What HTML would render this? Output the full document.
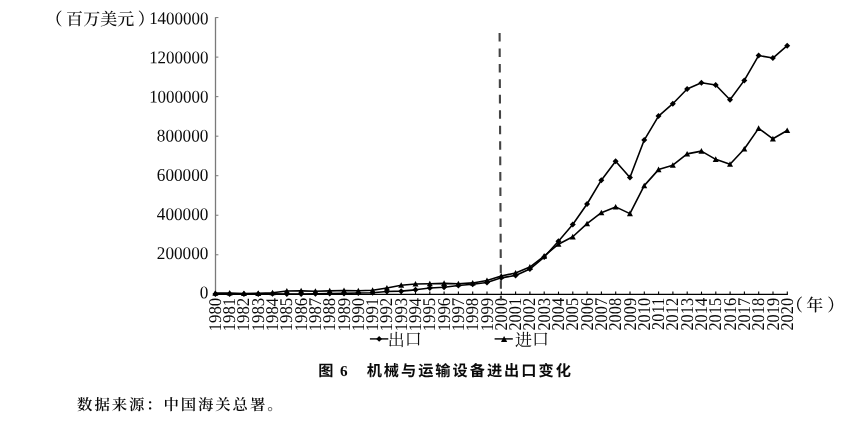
<!DOCTYPE html>
<html lang="zh"><head><meta charset="utf-8"><title>图6</title>
<style>
html,body{margin:0;padding:0;background:#fff;}
body{width:855px;height:429px;overflow:hidden;position:relative;}
svg{position:absolute;left:0;top:0;}
text{fill:#0a0a0a;text-rendering:geometricPrecision;}
.num{font-family:"Liberation Serif",serif;font-size:17.2px;}
.cjk{font-family:"Liberation Serif","Noto Serif CJK SC",serif;font-size:17px;font-weight:500;}
.cap{font-family:"Liberation Serif","Noto Sans CJK SC",sans-serif;font-size:15.2px;font-weight:700;}
.src{font-family:"Liberation Serif","Noto Serif CJK SC",serif;font-size:15.4px;font-weight:600;}
</style></head><body>
<svg width="855" height="429" viewBox="0 0 855 429">
<line x1="215.5" y1="17.3" x2="215.5" y2="294.3" stroke="#7a7a7a" stroke-width="1.3"/>
<text class="num" transform="translate(208.4,298.20) rotate(0.03) scale(1.0,1.035)" text-anchor="end">0</text>
<line x1="215.5" y1="254.77" x2="218.4" y2="254.77" stroke="#7a7a7a" stroke-width="1"/>
<text class="num" transform="translate(208.4,259.05) rotate(0.03) scale(1.0,1.035)" text-anchor="end">200000</text>
<line x1="215.5" y1="215.24" x2="218.4" y2="215.24" stroke="#7a7a7a" stroke-width="1"/>
<text class="num" transform="translate(208.4,219.90) rotate(0.03) scale(1.0,1.035)" text-anchor="end">400000</text>
<line x1="215.5" y1="175.71" x2="218.4" y2="175.71" stroke="#7a7a7a" stroke-width="1"/>
<text class="num" transform="translate(208.4,180.75) rotate(0.03) scale(1.0,1.035)" text-anchor="end">600000</text>
<line x1="215.5" y1="136.18" x2="218.4" y2="136.18" stroke="#7a7a7a" stroke-width="1"/>
<text class="num" transform="translate(208.4,141.60) rotate(0.03) scale(1.0,1.035)" text-anchor="end">800000</text>
<line x1="215.5" y1="96.65" x2="218.4" y2="96.65" stroke="#7a7a7a" stroke-width="1"/>
<text class="num" transform="translate(208.4,102.45) rotate(0.03) scale(0.985,1.035)" text-anchor="end">1000000</text>
<line x1="215.5" y1="57.12" x2="218.4" y2="57.12" stroke="#7a7a7a" stroke-width="1"/>
<text class="num" transform="translate(208.4,63.30) rotate(0.03) scale(0.985,1.035)" text-anchor="end">1200000</text>
<line x1="215.5" y1="17.59" x2="218.4" y2="17.59" stroke="#7a7a7a" stroke-width="1"/>
<text class="num" transform="translate(208.4,24.15) rotate(0.03) scale(0.985,1.035)" text-anchor="end">1400000</text>
<text class="cjk" x="45.6 66.1 83.15 100.25 117.35 137.8" y="25">（百万美元）</text>
<line x1="214.8" y1="294.3" x2="787.9" y2="294.3" stroke="#000" stroke-width="1.3"/>
<line x1="215.30" y1="294.3" x2="215.30" y2="291.6" stroke="#000" stroke-width="1.1"/>
<text class="num" text-anchor="end" transform="translate(220.80,297.76) rotate(-90) scale(0.975,1.04)">1980</text>
<line x1="229.60" y1="294.3" x2="229.60" y2="291.6" stroke="#000" stroke-width="1.1"/>
<text class="num" text-anchor="end" transform="translate(235.10,297.76) rotate(-90) scale(0.975,1.04)">1981</text>
<line x1="243.90" y1="294.3" x2="243.90" y2="291.6" stroke="#000" stroke-width="1.1"/>
<text class="num" text-anchor="end" transform="translate(249.40,297.76) rotate(-90) scale(0.975,1.04)">1982</text>
<line x1="258.20" y1="294.3" x2="258.20" y2="291.6" stroke="#000" stroke-width="1.1"/>
<text class="num" text-anchor="end" transform="translate(263.70,297.76) rotate(-90) scale(0.975,1.04)">1983</text>
<line x1="272.50" y1="294.3" x2="272.50" y2="291.6" stroke="#000" stroke-width="1.1"/>
<text class="num" text-anchor="end" transform="translate(278.00,297.76) rotate(-90) scale(0.975,1.04)">1984</text>
<line x1="286.80" y1="294.3" x2="286.80" y2="291.6" stroke="#000" stroke-width="1.1"/>
<text class="num" text-anchor="end" transform="translate(292.30,297.76) rotate(-90) scale(0.975,1.04)">1985</text>
<line x1="301.10" y1="294.3" x2="301.10" y2="291.6" stroke="#000" stroke-width="1.1"/>
<text class="num" text-anchor="end" transform="translate(306.60,297.76) rotate(-90) scale(0.975,1.04)">1986</text>
<line x1="315.40" y1="294.3" x2="315.40" y2="291.6" stroke="#000" stroke-width="1.1"/>
<text class="num" text-anchor="end" transform="translate(320.90,297.76) rotate(-90) scale(0.975,1.04)">1987</text>
<line x1="329.70" y1="294.3" x2="329.70" y2="291.6" stroke="#000" stroke-width="1.1"/>
<text class="num" text-anchor="end" transform="translate(335.20,297.76) rotate(-90) scale(0.975,1.04)">1988</text>
<line x1="344.00" y1="294.3" x2="344.00" y2="291.6" stroke="#000" stroke-width="1.1"/>
<text class="num" text-anchor="end" transform="translate(349.50,297.76) rotate(-90) scale(0.975,1.04)">1989</text>
<line x1="358.30" y1="294.3" x2="358.30" y2="291.6" stroke="#000" stroke-width="1.1"/>
<text class="num" text-anchor="end" transform="translate(363.80,297.76) rotate(-90) scale(0.975,1.04)">1990</text>
<line x1="372.60" y1="294.3" x2="372.60" y2="291.6" stroke="#000" stroke-width="1.1"/>
<text class="num" text-anchor="end" transform="translate(378.10,297.76) rotate(-90) scale(0.975,1.04)">1991</text>
<line x1="386.90" y1="294.3" x2="386.90" y2="291.6" stroke="#000" stroke-width="1.1"/>
<text class="num" text-anchor="end" transform="translate(392.40,297.76) rotate(-90) scale(0.975,1.04)">1992</text>
<line x1="401.20" y1="294.3" x2="401.20" y2="291.6" stroke="#000" stroke-width="1.1"/>
<text class="num" text-anchor="end" transform="translate(406.70,297.76) rotate(-90) scale(0.975,1.04)">1993</text>
<line x1="415.50" y1="294.3" x2="415.50" y2="291.6" stroke="#000" stroke-width="1.1"/>
<text class="num" text-anchor="end" transform="translate(421.00,297.76) rotate(-90) scale(0.975,1.04)">1994</text>
<line x1="429.80" y1="294.3" x2="429.80" y2="291.6" stroke="#000" stroke-width="1.1"/>
<text class="num" text-anchor="end" transform="translate(435.30,297.76) rotate(-90) scale(0.975,1.04)">1995</text>
<line x1="444.10" y1="294.3" x2="444.10" y2="291.6" stroke="#000" stroke-width="1.1"/>
<text class="num" text-anchor="end" transform="translate(449.60,297.76) rotate(-90) scale(0.975,1.04)">1996</text>
<line x1="458.40" y1="294.3" x2="458.40" y2="291.6" stroke="#000" stroke-width="1.1"/>
<text class="num" text-anchor="end" transform="translate(463.90,297.76) rotate(-90) scale(0.975,1.04)">1997</text>
<line x1="472.70" y1="294.3" x2="472.70" y2="291.6" stroke="#000" stroke-width="1.1"/>
<text class="num" text-anchor="end" transform="translate(478.20,297.76) rotate(-90) scale(0.975,1.04)">1998</text>
<line x1="487.00" y1="294.3" x2="487.00" y2="291.6" stroke="#000" stroke-width="1.1"/>
<text class="num" text-anchor="end" transform="translate(492.50,297.76) rotate(-90) scale(0.975,1.04)">1999</text>
<line x1="501.30" y1="294.3" x2="501.30" y2="291.6" stroke="#000" stroke-width="1.1"/>
<text class="num" text-anchor="end" transform="translate(506.80,297.76) rotate(-90) scale(0.955,1.04)">2000</text>
<line x1="515.60" y1="294.3" x2="515.60" y2="291.6" stroke="#000" stroke-width="1.1"/>
<text class="num" text-anchor="end" transform="translate(521.10,297.76) rotate(-90) scale(0.955,1.04)">2001</text>
<line x1="529.90" y1="294.3" x2="529.90" y2="291.6" stroke="#000" stroke-width="1.1"/>
<text class="num" text-anchor="end" transform="translate(535.40,297.76) rotate(-90) scale(0.955,1.04)">2002</text>
<line x1="544.20" y1="294.3" x2="544.20" y2="291.6" stroke="#000" stroke-width="1.1"/>
<text class="num" text-anchor="end" transform="translate(549.70,297.76) rotate(-90) scale(0.955,1.04)">2003</text>
<line x1="558.50" y1="294.3" x2="558.50" y2="291.6" stroke="#000" stroke-width="1.1"/>
<text class="num" text-anchor="end" transform="translate(564.00,297.76) rotate(-90) scale(0.955,1.04)">2004</text>
<line x1="572.80" y1="294.3" x2="572.80" y2="291.6" stroke="#000" stroke-width="1.1"/>
<text class="num" text-anchor="end" transform="translate(578.30,297.76) rotate(-90) scale(0.955,1.04)">2005</text>
<line x1="587.10" y1="294.3" x2="587.10" y2="291.6" stroke="#000" stroke-width="1.1"/>
<text class="num" text-anchor="end" transform="translate(592.60,297.76) rotate(-90) scale(0.955,1.04)">2006</text>
<line x1="601.40" y1="294.3" x2="601.40" y2="291.6" stroke="#000" stroke-width="1.1"/>
<text class="num" text-anchor="end" transform="translate(606.90,297.76) rotate(-90) scale(0.955,1.04)">2007</text>
<line x1="615.70" y1="294.3" x2="615.70" y2="291.6" stroke="#000" stroke-width="1.1"/>
<text class="num" text-anchor="end" transform="translate(621.20,297.76) rotate(-90) scale(0.955,1.04)">2008</text>
<line x1="630.00" y1="294.3" x2="630.00" y2="291.6" stroke="#000" stroke-width="1.1"/>
<text class="num" text-anchor="end" transform="translate(635.50,297.76) rotate(-90) scale(0.955,1.04)">2009</text>
<line x1="644.30" y1="294.3" x2="644.30" y2="291.6" stroke="#000" stroke-width="1.1"/>
<text class="num" text-anchor="end" transform="translate(649.80,297.76) rotate(-90) scale(0.955,1.04)">2010</text>
<line x1="658.60" y1="294.3" x2="658.60" y2="291.6" stroke="#000" stroke-width="1.1"/>
<text class="num" text-anchor="end" transform="translate(664.10,297.76) rotate(-90) scale(0.955,1.04)">2011</text>
<line x1="672.90" y1="294.3" x2="672.90" y2="291.6" stroke="#000" stroke-width="1.1"/>
<text class="num" text-anchor="end" transform="translate(678.40,297.76) rotate(-90) scale(0.955,1.04)">2012</text>
<line x1="687.20" y1="294.3" x2="687.20" y2="291.6" stroke="#000" stroke-width="1.1"/>
<text class="num" text-anchor="end" transform="translate(692.70,297.76) rotate(-90) scale(0.955,1.04)">2013</text>
<line x1="701.50" y1="294.3" x2="701.50" y2="291.6" stroke="#000" stroke-width="1.1"/>
<text class="num" text-anchor="end" transform="translate(707.00,297.76) rotate(-90) scale(0.955,1.04)">2014</text>
<line x1="715.80" y1="294.3" x2="715.80" y2="291.6" stroke="#000" stroke-width="1.1"/>
<text class="num" text-anchor="end" transform="translate(721.30,297.76) rotate(-90) scale(0.955,1.04)">2015</text>
<line x1="730.10" y1="294.3" x2="730.10" y2="291.6" stroke="#000" stroke-width="1.1"/>
<text class="num" text-anchor="end" transform="translate(735.60,297.76) rotate(-90) scale(0.955,1.04)">2016</text>
<line x1="744.40" y1="294.3" x2="744.40" y2="291.6" stroke="#000" stroke-width="1.1"/>
<text class="num" text-anchor="end" transform="translate(749.90,297.76) rotate(-90) scale(0.955,1.04)">2017</text>
<line x1="758.70" y1="294.3" x2="758.70" y2="291.6" stroke="#000" stroke-width="1.1"/>
<text class="num" text-anchor="end" transform="translate(764.20,297.76) rotate(-90) scale(0.955,1.04)">2018</text>
<line x1="773.00" y1="294.3" x2="773.00" y2="291.6" stroke="#000" stroke-width="1.1"/>
<text class="num" text-anchor="end" transform="translate(778.50,297.76) rotate(-90) scale(0.955,1.04)">2019</text>
<line x1="787.30" y1="294.3" x2="787.30" y2="291.6" stroke="#000" stroke-width="1.1"/>
<text class="num" text-anchor="end" transform="translate(792.80,297.76) rotate(-90) scale(0.955,1.04)">2020</text>
<text class="cjk" x="786 806.3 827.25" y="311.1">（年）</text>
<line x1="499.6" y1="33" x2="500.95" y2="300.5" stroke="#444" stroke-width="2.1" stroke-dasharray="8.6 6.85"/>
<polyline fill="none" stroke="#000" stroke-width="1.6" stroke-linejoin="round" points="215.35,293.14 229.65,292.99 243.94,293.52 258.24,293.36 272.53,292.72 286.83,290.94 301.13,290.84 315.42,291.27 329.72,290.85 344.01,290.55 358.31,290.82 372.61,290.28 386.90,287.97 401.20,285.26 415.49,283.99 429.79,283.75 444.09,283.33 458.38,283.73 472.68,282.92 486.97,280.43 501.27,275.99 515.57,273.01 529.86,267.09 544.16,256.07 558.45,244.22 572.75,236.78 587.05,223.64 601.34,212.69 615.64,206.90 629.93,213.61 644.23,185.64 658.53,169.61 672.82,165.19 687.12,153.90 701.41,151.12 715.71,159.32 730.01,164.21 744.30,149.02 758.60,128.34 772.89,138.81 787.19,130.52"/>
<polyline fill="none" stroke="#000" stroke-width="1.6" stroke-linejoin="round" points="215.35,293.98 229.65,293.94 243.94,293.90 258.24,293.91 272.53,293.86 286.83,294.00 301.13,293.93 315.42,293.81 329.72,293.60 344.01,293.38 358.31,293.05 372.61,292.74 386.90,291.54 401.20,291.13 415.49,289.83 429.79,287.95 444.09,287.18 458.38,285.52 472.68,284.23 486.97,282.53 501.27,277.84 515.57,275.41 529.86,269.07 544.16,257.06 558.45,241.17 572.75,224.58 587.05,204.02 601.34,180.18 615.64,161.17 629.93,177.57 644.23,140.05 658.53,116.05 672.82,103.69 687.12,89.04 701.41,82.73 715.71,84.97 730.01,99.77 744.30,80.39 758.60,55.56 772.89,58.05 787.19,45.64"/>
<path d="M212.35 295.74L218.35 295.74L215.35 290.14Z" fill="#000"/>
<path d="M226.65 295.59L232.65 295.59L229.65 289.99Z" fill="#000"/>
<path d="M240.94 296.12L246.94 296.12L243.94 290.52Z" fill="#000"/>
<path d="M255.24 295.96L261.24 295.96L258.24 290.36Z" fill="#000"/>
<path d="M269.53 295.32L275.53 295.32L272.53 289.72Z" fill="#000"/>
<path d="M283.83 293.54L289.83 293.54L286.83 287.94Z" fill="#000"/>
<path d="M298.13 293.44L304.13 293.44L301.13 287.84Z" fill="#000"/>
<path d="M312.42 293.87L318.42 293.87L315.42 288.27Z" fill="#000"/>
<path d="M326.72 293.45L332.72 293.45L329.72 287.85Z" fill="#000"/>
<path d="M341.01 293.15L347.01 293.15L344.01 287.55Z" fill="#000"/>
<path d="M355.31 293.42L361.31 293.42L358.31 287.82Z" fill="#000"/>
<path d="M369.61 292.88L375.61 292.88L372.61 287.28Z" fill="#000"/>
<path d="M383.90 290.57L389.90 290.57L386.90 284.97Z" fill="#000"/>
<path d="M398.20 287.86L404.20 287.86L401.20 282.26Z" fill="#000"/>
<path d="M412.49 286.59L418.49 286.59L415.49 280.99Z" fill="#000"/>
<path d="M426.79 286.35L432.79 286.35L429.79 280.75Z" fill="#000"/>
<path d="M441.09 285.93L447.09 285.93L444.09 280.33Z" fill="#000"/>
<path d="M455.38 286.33L461.38 286.33L458.38 280.73Z" fill="#000"/>
<path d="M469.68 285.52L475.68 285.52L472.68 279.92Z" fill="#000"/>
<path d="M483.97 283.03L489.97 283.03L486.97 277.43Z" fill="#000"/>
<path d="M498.27 278.59L504.27 278.59L501.27 272.99Z" fill="#000"/>
<path d="M512.57 275.61L518.57 275.61L515.57 270.01Z" fill="#000"/>
<path d="M526.86 269.69L532.86 269.69L529.86 264.09Z" fill="#000"/>
<path d="M541.16 258.67L547.16 258.67L544.16 253.07Z" fill="#000"/>
<path d="M555.45 246.82L561.45 246.82L558.45 241.22Z" fill="#000"/>
<path d="M569.75 239.38L575.75 239.38L572.75 233.78Z" fill="#000"/>
<path d="M584.05 226.24L590.05 226.24L587.05 220.64Z" fill="#000"/>
<path d="M598.34 215.29L604.34 215.29L601.34 209.69Z" fill="#000"/>
<path d="M612.64 209.50L618.64 209.50L615.64 203.90Z" fill="#000"/>
<path d="M626.93 216.21L632.93 216.21L629.93 210.61Z" fill="#000"/>
<path d="M641.23 188.24L647.23 188.24L644.23 182.64Z" fill="#000"/>
<path d="M655.53 172.21L661.53 172.21L658.53 166.61Z" fill="#000"/>
<path d="M669.82 167.79L675.82 167.79L672.82 162.19Z" fill="#000"/>
<path d="M684.12 156.50L690.12 156.50L687.12 150.90Z" fill="#000"/>
<path d="M698.41 153.72L704.41 153.72L701.41 148.12Z" fill="#000"/>
<path d="M712.71 161.92L718.71 161.92L715.71 156.32Z" fill="#000"/>
<path d="M727.01 166.81L733.01 166.81L730.01 161.21Z" fill="#000"/>
<path d="M741.30 151.62L747.30 151.62L744.30 146.02Z" fill="#000"/>
<path d="M755.60 130.94L761.60 130.94L758.60 125.34Z" fill="#000"/>
<path d="M769.89 141.41L775.89 141.41L772.89 135.81Z" fill="#000"/>
<path d="M784.19 133.12L790.19 133.12L787.19 127.52Z" fill="#000"/>
<path d="M212.35 293.98L215.35 290.98L218.35 293.98L215.35 296.98Z" fill="#000"/>
<path d="M226.65 293.94L229.65 290.94L232.65 293.94L229.65 296.94Z" fill="#000"/>
<path d="M240.94 293.90L243.94 290.90L246.94 293.90L243.94 296.90Z" fill="#000"/>
<path d="M255.24 293.91L258.24 290.91L261.24 293.91L258.24 296.91Z" fill="#000"/>
<path d="M269.53 293.86L272.53 290.86L275.53 293.86L272.53 296.86Z" fill="#000"/>
<path d="M283.83 294.00L286.83 291.00L289.83 294.00L286.83 297.00Z" fill="#000"/>
<path d="M298.13 293.93L301.13 290.93L304.13 293.93L301.13 296.93Z" fill="#000"/>
<path d="M312.42 293.81L315.42 290.81L318.42 293.81L315.42 296.81Z" fill="#000"/>
<path d="M326.72 293.60L329.72 290.60L332.72 293.60L329.72 296.60Z" fill="#000"/>
<path d="M341.01 293.38L344.01 290.38L347.01 293.38L344.01 296.38Z" fill="#000"/>
<path d="M355.31 293.05L358.31 290.05L361.31 293.05L358.31 296.05Z" fill="#000"/>
<path d="M369.61 292.74L372.61 289.74L375.61 292.74L372.61 295.74Z" fill="#000"/>
<path d="M383.90 291.54L386.90 288.54L389.90 291.54L386.90 294.54Z" fill="#000"/>
<path d="M398.20 291.13L401.20 288.13L404.20 291.13L401.20 294.13Z" fill="#000"/>
<path d="M412.49 289.83L415.49 286.83L418.49 289.83L415.49 292.83Z" fill="#000"/>
<path d="M426.79 287.95L429.79 284.95L432.79 287.95L429.79 290.95Z" fill="#000"/>
<path d="M441.09 287.18L444.09 284.18L447.09 287.18L444.09 290.18Z" fill="#000"/>
<path d="M455.38 285.52L458.38 282.52L461.38 285.52L458.38 288.52Z" fill="#000"/>
<path d="M469.68 284.23L472.68 281.23L475.68 284.23L472.68 287.23Z" fill="#000"/>
<path d="M483.97 282.53L486.97 279.53L489.97 282.53L486.97 285.53Z" fill="#000"/>
<path d="M498.27 277.84L501.27 274.84L504.27 277.84L501.27 280.84Z" fill="#000"/>
<path d="M512.57 275.41L515.57 272.41L518.57 275.41L515.57 278.41Z" fill="#000"/>
<path d="M526.86 269.07L529.86 266.07L532.86 269.07L529.86 272.07Z" fill="#000"/>
<path d="M541.16 257.06L544.16 254.06L547.16 257.06L544.16 260.06Z" fill="#000"/>
<path d="M555.45 241.17L558.45 238.17L561.45 241.17L558.45 244.17Z" fill="#000"/>
<path d="M569.75 224.58L572.75 221.58L575.75 224.58L572.75 227.58Z" fill="#000"/>
<path d="M584.05 204.02L587.05 201.02L590.05 204.02L587.05 207.02Z" fill="#000"/>
<path d="M598.34 180.18L601.34 177.18L604.34 180.18L601.34 183.18Z" fill="#000"/>
<path d="M612.64 161.17L615.64 158.17L618.64 161.17L615.64 164.17Z" fill="#000"/>
<path d="M626.93 177.57L629.93 174.57L632.93 177.57L629.93 180.57Z" fill="#000"/>
<path d="M641.23 140.05L644.23 137.05L647.23 140.05L644.23 143.05Z" fill="#000"/>
<path d="M655.53 116.05L658.53 113.05L661.53 116.05L658.53 119.05Z" fill="#000"/>
<path d="M669.82 103.69L672.82 100.69L675.82 103.69L672.82 106.69Z" fill="#000"/>
<path d="M684.12 89.04L687.12 86.04L690.12 89.04L687.12 92.04Z" fill="#000"/>
<path d="M698.41 82.73L701.41 79.73L704.41 82.73L701.41 85.73Z" fill="#000"/>
<path d="M712.71 84.97L715.71 81.97L718.71 84.97L715.71 87.97Z" fill="#000"/>
<path d="M727.01 99.77L730.01 96.77L733.01 99.77L730.01 102.77Z" fill="#000"/>
<path d="M741.30 80.39L744.30 77.39L747.30 80.39L744.30 83.39Z" fill="#000"/>
<path d="M755.60 55.56L758.60 52.56L761.60 55.56L758.60 58.56Z" fill="#000"/>
<path d="M769.89 58.05L772.89 55.05L775.89 58.05L772.89 61.05Z" fill="#000"/>
<path d="M784.19 45.64L787.19 42.64L790.19 45.64L787.19 48.64Z" fill="#000"/>
<line x1="369.9" y1="338.9" x2="388.3" y2="338.9" stroke="#111" stroke-width="1.5"/>
<path d="M376.25 338.9L379.15 336.0L382.05 338.9L379.15 341.8Z" fill="#000"/>
<text class="cjk" x="387.70 404.70" y="345.6 344.7" style="font-weight:400">出口</text>
<line x1="494.6" y1="338.9" x2="512.8" y2="338.9" stroke="#111" stroke-width="1.5"/>
<path d="M501.0 341.9L507.2 341.9L504.1 336.0Z" fill="#000"/>
<text class="cjk" x="515.00 531.95" y="345.6 344.7" style="font-weight:400">进口</text>
<text class="cap" y="376.2" x="318.20 327.20 340.00 349.50 366.65 383.83 401.01 418.19 435.37 452.55 469.73 486.91 504.09 521.27 538.45 555.63">图 6　机械与运输设备进出口变化</text>
<text class="src" y="409.6" x="77.10 94.38 111.66 128.94 146.22 163.50 180.78 198.06 215.34 232.62 249.90 267.18">数据来源：中国海关总署。</text>
</svg></body></html>
